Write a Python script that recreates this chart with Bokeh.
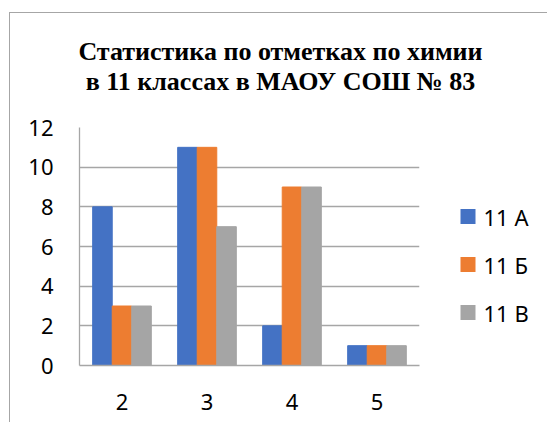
from bokeh.plotting import figure
from bokeh.models import ColumnDataSource, FactorRange, FixedTicker, Range1d
from bokeh.layouts import row, column
from bokeh.core.properties import value
from bokeh.transform import dodge
from bokeh.embed import file_html
from bokeh.resources import INLINE

grades = ["2", "3", "4", "5"]
class_a = [8, 11, 2, 1]
class_b = [3, 11, 9, 1]
class_v = [3, 7, 9, 1]
series_names = ["11 А", "11 Б", "11 В"]
colors = ["#4472C4", "#ED7D31", "#A5A5A5"]
title_lines = ["Статистика по отметках по химии", "в 11 классах в МАОУ СОШ № 83"]
y_ticks = [0, 2, 4, 6, 8, 10, 12]

font = "Noto Sans"
border = "1px solid #a6a6a6"

# ---- title panel ----
TW, TH = 538, 100
tf = figure(width=TW, height=TH, x_range=Range1d(0, TW), y_range=Range1d(0, TH),
            output_backend="svg", toolbar_location=None,
            min_border=0, min_border_left=0, min_border_right=0, min_border_top=0, min_border_bottom=0)
tf.axis.visible = False
tf.grid.visible = False
tf.outline_line_color = None
tf.styles = {"border-top": border, "border-left": border, "margin-top": "12px", "margin-left": "9px"}
tf.text(x=[270, 270], y=[TH - 38, TH - 68], text=title_lines,
        text_font=value("Liberation Serif"), text_font_size="26px", text_font_style="bold",
        text_color="#000000", text_align="center", text_baseline="alphabetic")

# ---- main chart ----
src = ColumnDataSource(dict(grade=grades, a=class_a, b=class_b, v=class_v))
p = figure(x_range=FactorRange(*grades), y_range=(0, 12), width=420, height=310,
           output_backend="svg", toolbar_location=None,
           min_border_left=69, min_border_right=11, min_border_top=15, min_border_bottom=57)
p.styles = {"border-left": border, "margin-left": "9px"}

bw = 0.23
p.vbar(x=dodge("grade", -bw, range=p.x_range), top="a", width=bw, source=src, color=colors[0])
p.vbar(x=dodge("grade", 0, range=p.x_range), top="b", width=bw, source=src, color=colors[1])
p.vbar(x=dodge("grade", bw, range=p.x_range), top="v", width=bw, source=src, color=colors[2])

p.outline_line_color = None
p.xgrid.grid_line_color = None
p.ygrid.grid_line_color = "#a6a6a6"
p.ygrid.grid_line_width = 1.3
p.yaxis.ticker = FixedTicker(ticks=y_ticks)
for ax in (p.xaxis[0], p.yaxis[0]):
    ax.axis_line_color = "#a6a6a6"
    ax.axis_line_width = 1.3
    ax.major_tick_line_color = None
    ax.minor_tick_line_color = None
    ax.major_tick_out = 0
    ax.major_tick_in = 0
    ax.major_label_text_font = font
    ax.major_label_text_font_size = "22px"
    ax.major_label_text_color = "#000000"
p.yaxis.major_label_standoff = 26
p.xaxis.major_label_standoff = 28

# ---- legend panel (its frame lines up with the chart's frame) ----
LW, LH = 118, 310
FH = 238
lg = figure(width=LW, height=LH, x_range=Range1d(0, LW), y_range=Range1d(0, FH),
            output_backend="svg", toolbar_location=None,
            min_border=0, min_border_left=0, min_border_right=0, min_border_top=15, min_border_bottom=57)
lg.axis.visible = False
lg.grid.visible = False
lg.outline_line_color = None
ly = [FH - 89, FH - 137, FH - 185]
lg.scatter(x=[38.5] * 3, y=ly, marker="square", size=15, color=colors, line_color=None)
lg.text(x=[54] * 3, y=ly, text=series_names, text_font=value(font), text_font_size="22px",
        text_color="#000000", text_align="left", text_baseline="middle")

layout = column(tf, row(p, lg, spacing=0), spacing=0)
open("out.html", "w").write(file_html(layout, INLINE))
